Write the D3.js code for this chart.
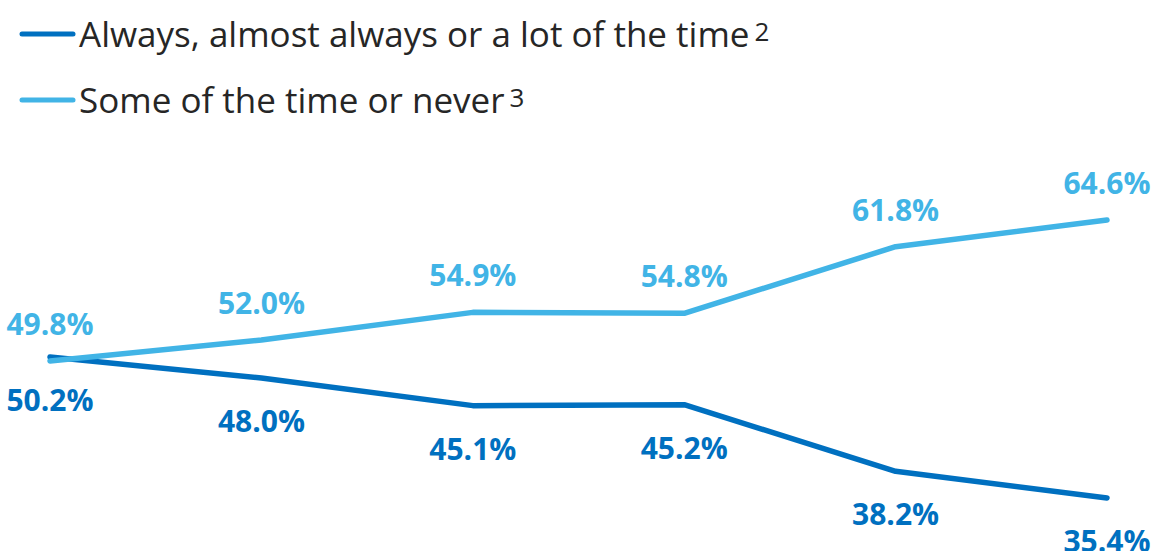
<!DOCTYPE html>
<html><head><meta charset="utf-8">
<script src="https://cdn.jsdelivr.net/npm/d3@7"></script>
<style>body{margin:0;background:#fff;} svg{display:block;}</style>
</head><body>
<svg id="c" width="1156" height="551"></svg>
<script>
const periods = ["P1","P2","P3","P4","P5","P6"];
const alwaysValues = [50.2, 48.0, 45.1, 45.2, 38.2, 35.4];
const someValues = [49.8, 52.0, 54.9, 54.8, 61.8, 64.6];
const seriesNames = ["Always, almost always or a lot of the time", "Some of the time or never"];
const seriesNotes = ["2", "3"];
const colors = ["#0070C0", "#41B4E6"];

const svg = d3.select("#c");
const font = "'Open Sans', 'Noto Sans', sans-serif";
const x = d3.scalePoint().domain(periods).range([50, 1107]);
const y = d3.scaleLinear().domain([30, 70]).range([549.4, 168.6]);

const line = d3.line().x((d,i)=>x(periods[i])).y(d=>y(d));
const series = [alwaysValues, someValues];

series.forEach((vals, s) => {
  svg.append("path").datum(vals).attr("d", line)
    .attr("fill","none").attr("stroke", colors[s]).attr("stroke-width", 5.5)
    .attr("stroke-linecap","round").attr("stroke-linejoin","round");
});

// labels
series.forEach((vals, s) => {
  svg.selectAll(null).data(vals).enter().append("text")
    .attr("x", (d,i)=>x(periods[i]))
    .attr("y", d => s===0 ? y(d)+54 : y(d)-26)
    .attr("text-anchor","middle")
    .attr("font-family", font).attr("font-weight", 700).attr("font-size", 30)
    .attr("fill", colors[s])
    .text(d => d.toFixed(1) + "%");
});

// legend
const legY = [34, 100];
seriesNames.forEach((name, s) => {
  svg.append("line").attr("x1", 22).attr("x2", 73).attr("y1", legY[s]).attr("y2", legY[s])
    .attr("stroke", colors[s]).attr("stroke-width", 5).attr("stroke-linecap","round");
  const t = svg.append("text").attr("x", 79).attr("y", legY[s]+13)
    .attr("font-family", font).attr("font-size", 35).attr("fill", "#262626");
  t.append("tspan").text(name);
  t.append("tspan").attr("dx", 5).attr("dy", -6).attr("font-size", 26).text(seriesNotes[s]);
});
</script>
</body></html>
